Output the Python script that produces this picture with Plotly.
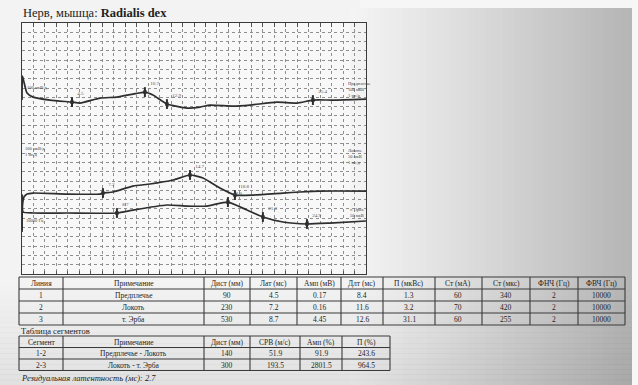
import plotly.graph_objects as go

W, H = 638, 385

# ---- Recorded responses: sweep time (ms) and trace level (grid divisions) ----
t_forearm = [0, 0.04, 0.17, 0.44, 0.96, 2.44, 4.36, 5.06, 6.8, 8.28, 9.68, 10.72, 11.42,
             12.64, 14.39, 15.52, 16.39, 18.4, 19.88, 22.23, 23.98, 25.37, 27.11, 30]
v_forearm = [18.71, 21.29, 20.65, 19.46, 19.03, 18.71, 18.49, 18.39, 18.92, 19.03, 19.35,
             19.57, 19.25, 18.28, 17.85, 17.96, 18.17, 18.06, 18.17, 18.49, 18.39, 18.71,
             18.71, 18.82]

t_elbow = [0, 0.04, 0.17, 0.44, 0.96, 3.92, 6.8, 7.06, 7.93, 9.68, 11.16, 13.17, 14.65,
           15.78, 17.26, 18.57, 20.14, 22.76, 24.24, 25.98, 30]
v_elbow = [4.73, 7.42, 8.28, 8.6, 8.71, 8.6, 8.6, 8.71, 8.82, 9.46, 9.68, 10.11, 10.65,
           10.32, 9.25, 8.49, 8.49, 8.71, 8.82, 8.92, 8.92]

t_erb = [0, 0.03, 0.09, 0.96, 3.92, 8.28, 9.68, 12.64, 14.39, 16.13, 17.96, 19.62, 21.01,
         22.76, 24.85, 26.85, 30]
v_erb = [4.52, 8.49, 6.67, 6.56, 6.56, 6.56, 6.88, 7.42, 7.31, 7.31, 7.74, 6.88, 6.13,
         5.59, 5.38, 5.48, 5.7]

# cursor marks placed on each response
mk_t_forearm = [4.36, 10.72, 12.64, 25.37]
mk_v_forearm = [18.49, 19.57, 18.28, 18.71]
mk_l_forearm = ["4.5", "10.7", "12.9", "25.4"]
mk_t_elbow = [7.06, 14.65, 18.57]
mk_v_elbow = [8.71, 10.65, 8.49]
mk_l_elbow = ["7.2", "14.7", "18.8"]
mk_t_erb = [8.28, 17.96, 21.01, 24.85]
mk_v_erb = [6.56, 7.74, 6.13, 5.38]
mk_l_erb = ["8.7", "18.0", "21.3", "24.9"]

# ---- Response table ----
tbl_headers = ["Линия", "Примечание", "Дист (мм)", "Лат (мс)", "Амп (мВ)", "Длт (мс)",
               "П (мкВс)", "Ст (мА)", "Ст (мкс)", "ФНЧ (Гц)", "ФВЧ (Гц)"]
line_no = ["1", "2", "3"]
site_names = ["Предплечье", "Локоть", "т. Эрба"]
dist_mm = [90, 230, 530]
lat_ms = [4.5, 7.2, 8.7]
amp_mv = [0.17, 0.16, 4.45]
dur_ms = [8.4, 11.6, 12.6]
area_uvs = [1.3, 3.2, 31.1]
stim_ma = [60, 70, 60]
stim_us = [340, 420, 255]
lf_hz = [2, 2, 2]
hf_hz = [10000, 10000, 10000]

# ---- Segment table ----
seg_headers = ["Сегмент", "Примечание", "Дист (мм)", "СРВ (м/с)", "Амп (%)", "П (%)"]
seg_id = ["1-2", "2-3"]
seg_note = ["Предплечье - Локоть", "Локоть - т. Эрба"]
seg_dist = [140, 300]
seg_cv = [51.9, 193.5]
seg_amp = [91.9, 2801.5]
seg_area = [243.6, 964.5]
residual_latency = 2.7

SERIF = "Liberation Serif, Times New Roman, serif"
INK = "#2e2e2e"


def px(x):
    return x / W


def py(y):
    return 1 - y / H


fig = go.Figure()

for t, v in [(t_forearm, v_forearm), (t_elbow, v_elbow), (t_erb, v_erb)]:
    fig.add_trace(go.Scatter(x=t, y=v, mode="lines",
                             line=dict(color=INK, width=1.7, shape="spline", smoothing=0.5),
                             showlegend=False, hoverinfo="skip"))

for t, v, lab in [(mk_t_forearm, mk_v_forearm, mk_l_forearm),
                  (mk_t_elbow, mk_v_elbow, mk_l_elbow),
                  (mk_t_erb, mk_v_erb, mk_l_erb)]:
    fig.add_trace(go.Scatter(x=t, y=v, mode="markers+text", text=lab,
                             textposition="top right",
                             textfont=dict(family=SERIF, size=5, color="#555"),
                             marker=dict(symbol="line-ns", size=7,
                                         line=dict(color=INK, width=2)),
                             showlegend=False, hoverinfo="skip"))
    fig.add_trace(go.Scatter(x=t, y=v, mode="markers",
                             marker=dict(symbol="square", size=3.5, color=INK),
                             showlegend=False, hoverinfo="skip"))

# companion trace for the top tick ruler
fig.add_trace(go.Scatter(x=[0, 30], y=[0, 0], xaxis="x2", mode="lines",
                         line=dict(width=0), showlegend=False, hoverinfo="skip"))

x_dom = [px(22), px(366)]
y_dom = [py(274), py(23)]

fig.update_layout(
    width=W, height=H, autosize=False,
    margin=dict(l=0, r=0, t=0, b=0),
    paper_bgcolor="#f3f3f3",
    plot_bgcolor="rgba(248,248,248,0.9)",
    xaxis=dict(domain=x_dom, range=[0, 30], dtick=1, showgrid=True,
               gridcolor="#8f8f8f", griddash="dot", gridwidth=1,
               zeroline=False, showline=True, mirror=True, linecolor="#3a3a3a",
               linewidth=1.2, ticks="inside", ticklen=3, tickcolor="#555",
               showticklabels=False, fixedrange=True),
    xaxis2=dict(domain=x_dom, range=[0, 30], overlaying="x", side="top", anchor="y",
                dtick=1, showgrid=False, zeroline=False, ticks="inside", ticklen=4,
                tickcolor="#555", showticklabels=False, fixedrange=True),
    yaxis=dict(domain=y_dom, range=[0, 27], dtick=1, showgrid=True,
               gridcolor="#8f8f8f", griddash="dot", gridwidth=1,
               zeroline=False, showline=True, mirror=True, linecolor="#3a3a3a",
               linewidth=1.2, showticklabels=False, fixedrange=True),
)

# paper tone: fades to grey toward the right edge of the sheet
shapes = []
n = 48
x_start, x_end = 350, 632
for i in range(n):
    f = i / (n - 1)
    g = int(244 - 62 * f ** 1.1)
    x0 = x_start + (x_end - x_start) * i / n
    x1 = x_start + (x_end - x_start) * (i + 1) / n + 0.6
    shapes.append(dict(type="rect", xref="paper", yref="paper", layer="below",
                       x0=px(x0), x1=px(x1), y0=0, y1=py(8),
                       fillcolor=f"rgb({g},{g},{g})", line=dict(width=0)))
# darker toward the foot of the sheet
m = 20
for j in range(m):
    f = j / (m - 1)
    y0 = 280 + (385 - 280) * j / m
    y1 = 280 + (385 - 280) * (j + 1) / m + 0.6
    shapes.append(dict(type="rect", xref="paper", yref="paper", layer="below",
                       x0=0, x1=px(632), y0=py(y1), y1=py(y0),
                       fillcolor=f"rgba(0,0,0,{0.07 * f:.3f})", line=dict(width=0)))
shapes.append(dict(type="rect", xref="paper", yref="paper", layer="below",
                   x0=px(632), x1=1, y0=0, y1=1,
                   fillcolor="#f7f7f7", line=dict(width=0)))
shapes.append(dict(type="rect", xref="paper", yref="paper", layer="below",
                   x0=px(360), x1=px(632), y0=py(8), y1=1,
                   fillcolor="#f6f6f6", line=dict(width=0)))

ann = []
ann.append(dict(x=px(21), y=py(13), xref="paper", yref="paper", xanchor="left",
                yanchor="middle", showarrow=False,
                text="Нерв, мышца: <b>Radialis dex</b>",
                font=dict(family=SERIF, size=12.5, color="#1e1e1e")))

# small trace captions (site, gain, sweep)
cap_font = dict(family=SERIF, size=4.5, color="#444")
for xx, yy, txt in [(346, 90, "Предплечье<br>100 мкВ<br>1 мс/д"),
                    (346, 156, "Локоть<br>50 мкВ<br>1 мс/д"),
                    (348, 213, "т. Эрба<br>50 мкВ")]:
    ann.append(dict(x=px(xx), y=py(yy), xref="paper", yref="paper", xanchor="left",
                    yanchor="middle", showarrow=False, text=txt, font=cap_font,
                    align="left"))
for xx, yy, txt in [(25, 88, "100 мкВ/д"), (23, 151, "100 мкВ/д<br>1 мс/д"),
                    (24, 220, "10000 Гц")]:
    ann.append(dict(x=px(xx), y=py(yy), xref="paper", yref="paper", xanchor="left",
                    yanchor="middle", showarrow=False, text=txt, font=cap_font,
                    align="left"))

ann.append(dict(x=px(19), y=py(331), xref="paper", yref="paper", xanchor="left",
                yanchor="middle", showarrow=False, text="Таблица сегментов",
                font=dict(family=SERIF, size=8.5, color="#222")))
ann.append(dict(x=px(19), y=py(378), xref="paper", yref="paper", xanchor="left",
                yanchor="middle", showarrow=False,
                text=f"<i>Резидуальная латентность (мс): {residual_latency}</i>",
                font=dict(family=SERIF, size=8.5, color="#222")))


# ---- ruled tables: grid of lines with centred cell text ----
def ruled_table(col_edges, row_edges, header, columns, font_size=7.5):
    top, bottom = row_edges[0], row_edges[-1]
    left, right = col_edges[0], col_edges[-1]
    for xe in col_edges:
        shapes.append(dict(type="line", xref="paper", yref="paper",
                           x0=px(xe), x1=px(xe), y0=py(top), y1=py(bottom),
                           line=dict(color="#3a3a3a", width=1.1)))
    for ye in row_edges:
        shapes.append(dict(type="line", xref="paper", yref="paper",
                           x0=px(left), x1=px(right), y0=py(ye), y1=py(ye),
                           line=dict(color="#3a3a3a", width=1.1)))
    rows = [header] + [list(r) for r in zip(*columns)]
    for ri, row in enumerate(rows):
        yc = (row_edges[ri] + row_edges[ri + 1]) / 2
        for ci, val in enumerate(row):
            xc = (col_edges[ci] + col_edges[ci + 1]) / 2
            ann.append(dict(x=px(xc), y=py(yc + 0.5), xref="paper", yref="paper",
                            xanchor="center", yanchor="middle", showarrow=False,
                            text=str(val),
                            font=dict(family=SERIF, size=font_size, color="#1e1e1e")))


ruled_table([19, 63, 204, 250, 297, 341, 383, 435, 482, 530, 578, 625],
            [277, 289, 301, 313, 325],
            tbl_headers,
            [line_no, site_names, dist_mm, lat_ms, [f"{a:.2f}" for a in amp_mv],
             dur_ms, area_uvs, stim_ma, stim_us, lf_hz, hf_hz])
ruled_table([19, 63, 204, 250, 300, 342, 390],
            [336, 347.5, 359, 370.5],
            seg_headers,
            [seg_id, seg_note, seg_dist, seg_cv, seg_amp, seg_area])

fig.update_layout(shapes=shapes, annotations=ann)

fig.write_html("out.html")
